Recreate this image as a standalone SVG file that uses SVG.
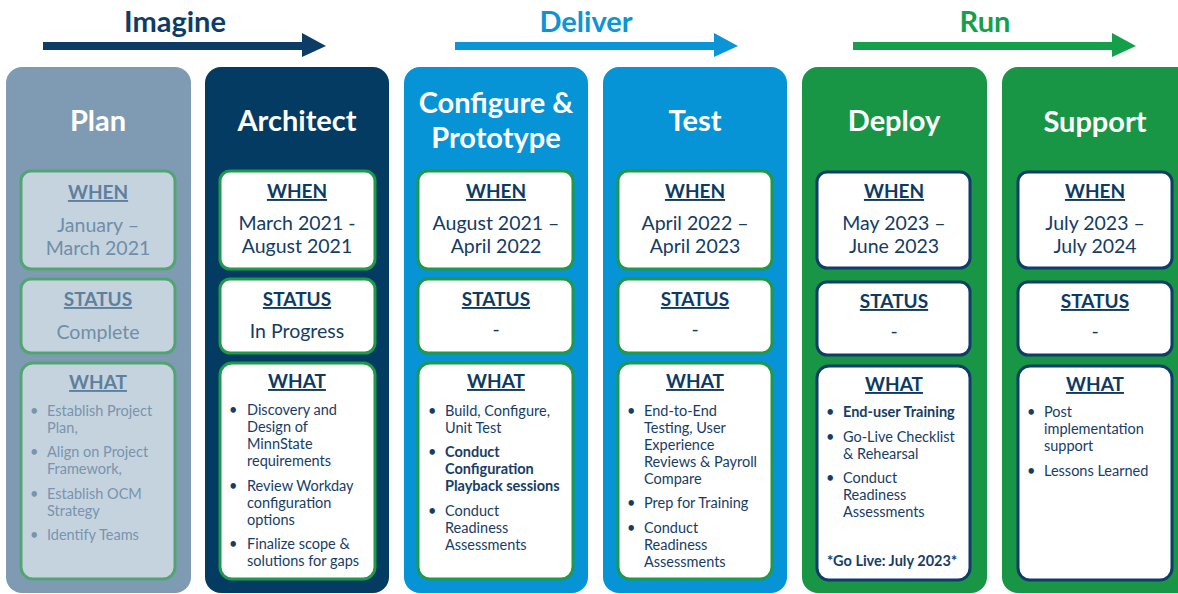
<svg xmlns="http://www.w3.org/2000/svg" width="1178" height="594" viewBox="0 0 1178 594">
  <style>
    text { font-family: Lato, "Open Sans", "Liberation Sans", sans-serif; }
    .phase { font-size: 29px; font-weight: bold; text-anchor: middle; }
    .title { font-size: 29px; font-weight: bold; fill: #ffffff; text-anchor: middle; }
    .head { font-size: 19px; font-weight: bold; text-anchor: middle; text-decoration: underline; fill: #0d3a63; }
    .date { font-size: 19.5px; text-anchor: middle; fill: #143c64; }
    .item { font-size: 14.5px; fill: #173d66; }
    .b { font-weight: bold; }
    .dot { font-size: 14.5px; fill: #173d66; }
    .card { fill: #ffffff; stroke-width: 3; }
    .g { stroke: #1f9a48; }
    .n { stroke: #0f3c68; }
    .plan .card { fill: #c5d3de; stroke: #52a572; }
    .plan .head { fill: #5d809e; }
    .plan .date { fill: #6f8ea9; }
    .plan .item, .plan .dot { fill: #7894ae; }
  </style>

  <!-- phase banners -->
  <g id="phases">
    <g id="imagine" fill="#0d3c67">
      <text class="phase" x="175" y="32" fill="#0d3c67">Imagine</text>
      <rect x="43" y="42" width="260" height="8"/>
      <polygon points="302,33 326,46 302,57"/>
    </g>
    <g id="deliver" fill="#0b95d7">
      <text class="phase" x="586" y="32" fill="#0b95d7">Deliver</text>
      <rect x="455" y="42" width="261" height="8"/>
      <polygon points="714,33 738,46 714,57"/>
    </g>
    <g id="run" fill="#14a04b">
      <text class="phase" x="985" y="32" fill="#14a04b">Run</text>
      <rect x="853" y="42" width="261" height="8"/>
      <polygon points="1112,33 1136,46 1112,57"/>
    </g>
  </g>

  <!-- Plan -->
  <g id="plan" class="plan">
    <rect x="6" y="67" width="185" height="526" rx="16" fill="#7e9bb3"/>
    <text class="title" x="98" y="131">Plan</text>
    <rect class="card" x="21" y="171" width="154" height="98" rx="10"/>
    <text class="head" x="98" y="199">WHEN</text>
    <text class="date" x="98" y="232">January –</text>
    <text class="date" x="98" y="255">March 2021</text>
    <rect class="card" x="21" y="279" width="154" height="74" rx="10"/>
    <text class="head" x="98" y="306">STATUS</text>
    <text class="date" x="98" y="339">Complete</text>
    <rect class="card" x="21" y="363" width="154" height="216" rx="12"/>
    <text class="head" x="98" y="389">WHAT</text>
    <text class="dot" x="30" y="416">•</text>
    <text class="item" x="47" y="416">Establish Project</text>
    <text class="item" x="47" y="433">Plan,</text>
    <text class="dot" x="30" y="457">•</text>
    <text class="item" x="47" y="457">Align on Project</text>
    <text class="item" x="47" y="474">Framework,</text>
    <text class="dot" x="30" y="499">•</text>
    <text class="item" x="47" y="499">Establish OCM</text>
    <text class="item" x="47" y="516">Strategy</text>
    <text class="dot" x="30" y="540">•</text>
    <text class="item" x="47" y="540">Identify Teams</text>
  </g>

  <!-- Architect -->
  <g id="architect">
    <rect x="205" y="67" width="184" height="526" rx="16" fill="#033b63"/>
    <text class="title" x="297" y="131">Architect</text>
    <rect class="card g" x="220" y="171" width="155" height="98" rx="10"/>
    <text class="head" x="297" y="198">WHEN</text>
    <text class="date" x="297" y="230">March 2021 -</text>
    <text class="date" x="297" y="253">August 2021</text>
    <rect class="card g" x="220" y="279" width="155" height="74" rx="10"/>
    <text class="head" x="297" y="306">STATUS</text>
    <text class="date" x="297" y="338">In Progress</text>
    <rect class="card g" x="220" y="363" width="155" height="216" rx="12"/>
    <text class="head" x="297" y="388">WHAT</text>
    <text class="dot" x="229" y="415">•</text>
    <text class="item" x="247" y="415">Discovery and</text>
    <text class="item" x="247" y="432">Design of</text>
    <text class="item" x="247" y="449">MinnState</text>
    <text class="item" x="247" y="466">requirements</text>
    <text class="dot" x="229" y="491">•</text>
    <text class="item" x="247" y="491">Review Workday</text>
    <text class="item" x="247" y="508">configuration</text>
    <text class="item" x="247" y="525">options</text>
    <text class="dot" x="229" y="549">•</text>
    <text class="item" x="247" y="549">Finalize scope &amp;</text>
    <text class="item" x="247" y="566">solutions for gaps</text>
  </g>

  <!-- Configure & Prototype -->
  <g id="configure">
    <rect x="404" y="67" width="184" height="526" rx="16" fill="#0694d6"/>
    <text class="title" x="496" y="113">Configure &amp;</text>
    <text class="title" x="496" y="148">Prototype</text>
    <rect class="card g" x="418" y="171" width="155" height="98" rx="10"/>
    <text class="head" x="496" y="198">WHEN</text>
    <text class="date" x="496" y="230">August 2021 –</text>
    <text class="date" x="496" y="253">April 2022</text>
    <rect class="card g" x="418" y="279" width="155" height="74" rx="10"/>
    <text class="head" x="496" y="306">STATUS</text>
    <text class="date" x="496" y="336">-</text>
    <rect class="card g" x="418" y="363" width="155" height="216" rx="12"/>
    <text class="head" x="496" y="388">WHAT</text>
    <text class="dot" x="428" y="416">•</text>
    <text class="item" x="445" y="416">Build, Configure,</text>
    <text class="item" x="445" y="433">Unit Test</text>
    <text class="dot" x="428" y="457">•</text>
    <text class="item b" x="445" y="457">Conduct</text>
    <text class="item b" x="445" y="474">Configuration</text>
    <text class="item b" x="445" y="491">Playback sessions</text>
    <text class="dot" x="428" y="516">•</text>
    <text class="item" x="445" y="516">Conduct</text>
    <text class="item" x="445" y="533">Readiness</text>
    <text class="item" x="445" y="550">Assessments</text>
  </g>

  <!-- Test -->
  <g id="test">
    <rect x="603" y="67" width="184" height="526" rx="16" fill="#0694d6"/>
    <text class="title" x="695" y="131">Test</text>
    <rect class="card g" x="618" y="171" width="154" height="98" rx="10"/>
    <text class="head" x="695" y="198">WHEN</text>
    <text class="date" x="695" y="230">April 2022 –</text>
    <text class="date" x="695" y="253">April 2023</text>
    <rect class="card g" x="618" y="279" width="154" height="74" rx="10"/>
    <text class="head" x="695" y="306">STATUS</text>
    <text class="date" x="695" y="336">-</text>
    <rect class="card g" x="618" y="363" width="154" height="216" rx="12"/>
    <text class="head" x="695" y="388">WHAT</text>
    <text class="dot" x="627" y="416">•</text>
    <text class="item" x="644" y="416">End-to-End</text>
    <text class="item" x="644" y="433">Testing, User</text>
    <text class="item" x="644" y="450">Experience</text>
    <text class="item" x="644" y="467">Reviews &amp; Payroll</text>
    <text class="item" x="644" y="484">Compare</text>
    <text class="dot" x="627" y="508">•</text>
    <text class="item" x="644" y="508">Prep for Training</text>
    <text class="dot" x="627" y="533">•</text>
    <text class="item" x="644" y="533">Conduct</text>
    <text class="item" x="644" y="550">Readiness</text>
    <text class="item" x="644" y="567">Assessments</text>
  </g>

  <!-- Deploy -->
  <g id="deploy">
    <rect x="802" y="67" width="185" height="526" rx="16" fill="#189545"/>
    <text class="title" x="894" y="131">Deploy</text>
    <rect class="card n" x="817" y="172" width="153" height="96" rx="10"/>
    <text class="head" x="894" y="198">WHEN</text>
    <text class="date" x="894" y="230">May 2023 –</text>
    <text class="date" x="894" y="253">June 2023</text>
    <rect class="card n" x="817" y="282" width="153" height="73" rx="10"/>
    <text class="head" x="894" y="308">STATUS</text>
    <text class="date" x="894" y="338">-</text>
    <rect class="card n" x="817" y="366" width="153" height="214" rx="12"/>
    <text class="head" x="894" y="391">WHAT</text>
    <text class="dot" x="826" y="417">•</text>
    <text class="item b" x="843" y="417">End-user Training</text>
    <text class="dot" x="826" y="442">•</text>
    <text class="item" x="843" y="442">Go-Live Checklist</text>
    <text class="item" x="843" y="459">&amp; Rehearsal</text>
    <text class="dot" x="826" y="483">•</text>
    <text class="item" x="843" y="483">Conduct</text>
    <text class="item" x="843" y="500">Readiness</text>
    <text class="item" x="843" y="517">Assessments</text>
    <text class="item b" x="892" y="566" text-anchor="middle">*Go Live: July 2023*</text>
  </g>

  <!-- Support -->
  <g id="support">
    <rect x="1002" y="67" width="200" height="526" rx="16" fill="#189545"/>
    <text class="title" x="1095" y="132">Support</text>
    <rect class="card n" x="1018" y="172" width="154" height="96" rx="10"/>
    <text class="head" x="1095" y="198">WHEN</text>
    <text class="date" x="1095" y="230">July 2023 –</text>
    <text class="date" x="1095" y="253">July 2024</text>
    <rect class="card n" x="1018" y="282" width="154" height="73" rx="10"/>
    <text class="head" x="1095" y="308">STATUS</text>
    <text class="date" x="1095" y="338">-</text>
    <rect class="card n" x="1018" y="366" width="154" height="214" rx="12"/>
    <text class="head" x="1095" y="391">WHAT</text>
    <text class="dot" x="1027" y="417">•</text>
    <text class="item" x="1044" y="417">Post</text>
    <text class="item" x="1044" y="434">implementation</text>
    <text class="item" x="1044" y="451">support</text>
    <text class="dot" x="1027" y="476">•</text>
    <text class="item" x="1044" y="476">Lessons Learned</text>
  </g>
</svg>
